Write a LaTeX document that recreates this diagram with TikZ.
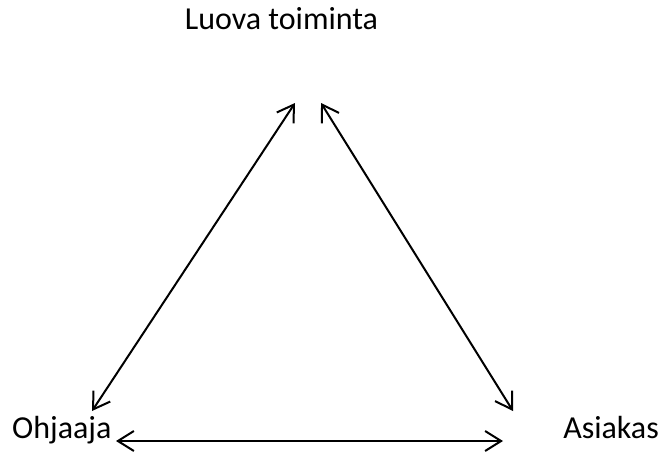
\documentclass[tikz,border=0pt]{standalone}
\usepackage{fontspec}
\setmainfont{Carlito}
\usetikzlibrary{arrows.meta}
\begin{document}
\begin{tikzpicture}[x=1pt,y=-1pt,
  lbl/.style={inner sep=0pt,font=\fontsize{32}{38}\selectfont},
  dbl/.style={line width=2pt,{Straight Barb[length=16pt,width=20pt,line width=2pt]}-{Straight Barb[length=16pt,width=20pt,line width=2pt]}}]
\useasboundingbox (0,0) rectangle (663,452);
\node[lbl,anchor=base] (top) at (281.5,30) {Luova toiminta};
\node[lbl,anchor=base west] (left) at (12,438) {Ohjaaja};
\node[lbl,anchor=base east] (right) at (659,438) {Asiakas};
\coordinate (tl) at (295,103);
\coordinate (tr) at (321,103);
\coordinate (lb) at (92,411);
\coordinate (rb) at (513,411);
\coordinate (bl) at (116,441);
\coordinate (br) at (503,441);
\draw[dbl] (tl) -- (lb);
\draw[dbl] (tr) -- (rb);
\draw[dbl] (bl) -- (br);
\end{tikzpicture}
\end{document}
